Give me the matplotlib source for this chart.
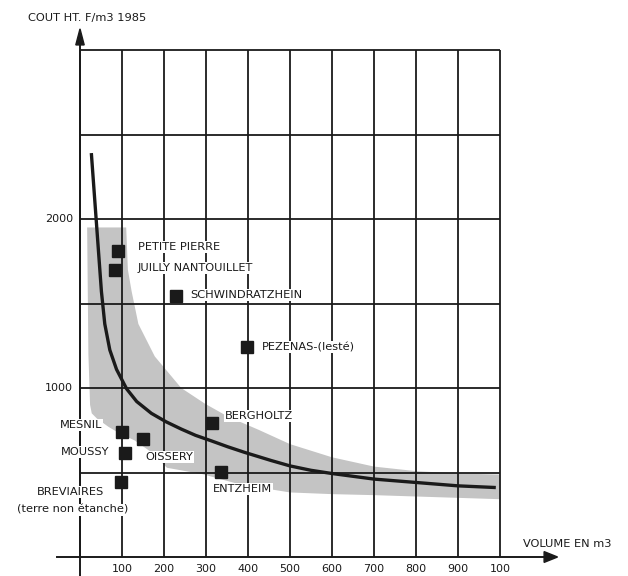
import matplotlib
matplotlib.use("Agg")
import matplotlib.pyplot as plt
from matplotlib.patches import Polygon

plt.rcParams['font.family'] = ['DejaVu Sans']

# ---- data ----
sites = ["PETITE PIERRE", "JUILLY NANTOUILLET", "SCHWINDRATZHEIN", "PEZENAS-(lesté)",
         "BERGHOLTZ", "MESNIL", "OISSERY", "MOUSSY", "ENTZHEIM", "BREVIAIRES"]
volume = [90, 83, 229, 397, 314, 100, 150, 107, 335, 98]
cost = [1810, 1700, 1545, 1245, 793, 740, 698, 615, 503, 445]

curve_x = [27, 39, 51, 59, 71, 87, 111, 135, 170, 205, 241, 275, 313, 352, 392, 455,
           500, 550, 600, 700, 800, 900, 990]
curve_y = [2390, 1980, 1571, 1379, 1225, 1110, 995, 920, 850, 800, 757, 720, 687, 652,
           619, 571, 539, 513, 494, 461, 441, 421, 411]

band_upper_x = [17, 110, 114, 123, 139, 178, 241, 297, 352, 424, 500, 600, 700, 800, 900, 1000]
band_upper_y = [1950, 1950, 1700, 1571, 1379, 1187, 1000, 908, 831, 754, 668, 590, 535, 508,
                494, 488]
band_lower_x = [17, 20, 24, 28, 40, 68, 95, 130, 170, 207, 292, 380, 500, 600, 700, 800,
                900, 1000]
band_lower_y = [1950, 1200, 900, 850, 820, 770, 730, 690, 620, 528, 490, 430, 382, 372,
                366, 358, 350, 342]

x_grid = [0, 100, 200, 300, 400, 500, 600, 700, 800, 900, 1000]
x_ticklabels = ["100", "200", "300", "400", "500", "600", "700", "800", "900", "100"]
y_grid = [500, 1000, 1500, 2000, 2500, 3000]
y_ticks = [1000, 2000]
y_ticklabels = ["1000", "2000"]

# ---- figure ----
W, H = 628, 576
fig = plt.figure(figsize=(W / 100, H / 100), dpi=100)
ax = fig.add_axes([0, 0, 1, 1])
ax.set_axis_off()
sx = 0.42     # px per unit volume
sy = 0.169    # px per unit cost
x0px, y0px = 80, 557
ax.set_xlim(-x0px / sx, (W - x0px) / sx)
ax.set_ylim(-(H - y0px) / sy, y0px / sy)

lc = '#1a1a1a'
# band
poly = list(zip(band_upper_x, band_upper_y)) + list(zip(band_lower_x[::-1], band_lower_y[::-1]))
ax.add_patch(Polygon(poly, closed=True, facecolor='#c4c4c4', edgecolor='none',
                     linewidth=0, zorder=1))

# grid
ax.vlines(x_grid, 0, 3000, color=lc, lw=1.3, zorder=2)
ax.hlines(y_grid, 0, 1000, color=lc, lw=1.3, zorder=2)
# axes
ax.plot([-55, 1110], [0, 0], color=lc, lw=1.4, zorder=2)
ax.plot([0, 0], [-200, 3050], color=lc, lw=1.4, zorder=2)
ax.add_patch(Polygon([(1105, 32), (1105, -32), (1137, 0)], closed=True, color=lc, zorder=3))
ax.add_patch(Polygon([(-10, 3030), (10, 3030), (0, 3125)], closed=True, color=lc, zorder=3))

# curve
ax.plot(curve_x, curve_y, color=lc, lw=2.4, zorder=4, solid_capstyle='butt',
        solid_joinstyle='round')

# points
ax.plot(volume, cost, 's', color=lc, markersize=8.7, zorder=5, linestyle='none')

bb = dict(facecolor='white', edgecolor='none', pad=0.6)
fs = 8.2
def lab(x, y, s, ha='left'):
    ax.text(x, y, s, ha=ha, va='center', fontsize=fs, color=lc, bbox=bb, zorder=6)

def px(xp, yp):
    return (xp - x0px) / sx, (y0px - yp) / sy

lab(*px(138, 247), "PETITE PIERRE")
lab(*px(138, 268), "JUILLY NANTOUILLET")
lab(*px(190, 295), "SCHWINDRATZHEIN")
lab(*px(262, 347), "PEZENAS-(lesté)")
lab(*px(225, 416), "BERGHOLTZ")
lab(*px(102, 425), "MESNIL", ha='right')
lab(*px(109, 452), "MOUSSY", ha='right')
lab(*px(145, 457), "OISSERY")
lab(*px(213, 489), "ENTZHEIM")
lab(*px(70, 492), "BREVIAIRES", ha='center')
lab(*px(73, 510), "(terre non étanche)", ha='center')

# tick labels
for xv, s in zip(x_grid[1:], x_ticklabels):
    ax.text(xv, (y0px - 569) / sy, s, ha='center', va='center', fontsize=8, color=lc)
for yv, s in zip(y_ticks, y_ticklabels):
    ax.text((73 - x0px) / sx, yv, s, ha='right', va='center', fontsize=8, color=lc)

ax.text(*px(28, 18), "COUT HT. F/m3 1985", ha='left', va='center', fontsize=fs, color=lc)
ax.text(*px(523, 544), "VOLUME EN m3", ha='left', va='center', fontsize=fs, color=lc)

fig.savefig("out.png", dpi=100)
